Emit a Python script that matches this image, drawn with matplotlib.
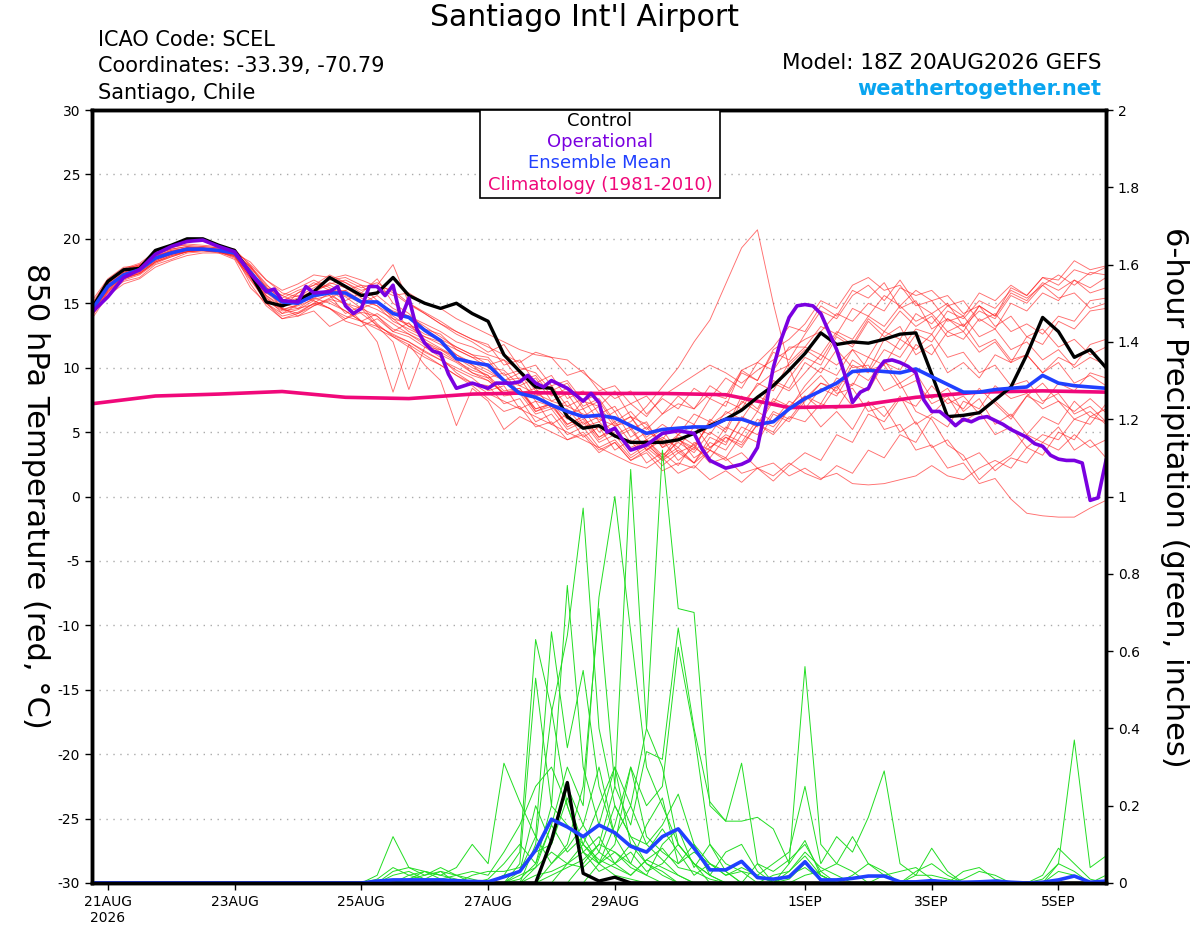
import matplotlib
matplotlib.use('Agg')
from matplotlib import pyplot as plt
from matplotlib.patches import Rectangle
from matplotlib.ticker import FuncFormatter
import pandas as pd
import numpy as np

plt.rcParams['font.family'] = ['DejaVu Sans']
plt.rcParams['axes.unicode_minus'] = False

# 6-hourly GEFS times, 18Z 20AUG2026 to 18Z 05SEP2026
times = pd.date_range('2026-08-20 18:00', periods=65, freq='6h')

tick_days = ['2026-08-21', '2026-08-23', '2026-08-25', '2026-08-27',
             '2026-08-29', '2026-09-01', '2026-09-03', '2026-09-05']
tick_labels = ['21AUG\n2026', '23AUG', '25AUG', '27AUG', '29AUG', '1SEP', '3SEP', '5SEP']

control_temp = [14.6, 16.7, 17.6, 17.7, 19.1, 19.5, 20.0, 20.0, 19.5, 19.1,
                17.3, 15.1, 14.8, 15.2, 15.9, 17.0, 16.3, 15.6, 15.8, 17.0,
                15.6, 15.0, 14.6, 15.0, 14.2, 13.6, 11.0, 9.7, 8.5, 8.4,
                6.2, 5.3, 5.5, 4.7, 4.2, 4.2, 4.2, 4.4, 4.9, 5.5,
                6.0, 6.7, 7.7, 8.6, 9.8, 11.1, 12.7, 11.8, 12.0, 11.9,
                12.2, 12.6, 12.7, 9.5, 6.2, 6.3, 6.5, 7.5, 8.5, 11.0,
                13.9, 12.8, 10.8, 11.4, 10.0]

mean_temp = [14.5, 16.3, 17.2, 17.6, 18.5, 18.9, 19.2, 19.2, 19.1, 18.9,
             17.4, 16.0, 15.1, 15.0, 15.6, 15.8, 15.8, 15.1, 15.1, 14.2,
             13.9, 12.9, 12.1, 10.7, 10.4, 10.2, 9.0, 8.0, 7.7, 7.1,
             6.6, 6.2, 6.3, 6.1, 5.5, 4.9, 5.2, 5.3, 5.4, 5.4,
             6.0, 6.0, 5.6, 5.8, 6.8, 7.6, 8.2, 8.8, 9.7, 9.8,
             9.7, 9.6, 9.9, 9.3, 8.7, 8.1, 8.1, 8.3, 8.4, 8.5,
             9.4, 8.8, 8.6, 8.5, 8.4]

# operational run, hours after 18Z 20AUG
op_hours = [0, 6, 12, 18, 24, 30, 36, 42, 48, 54, 60, 66, 69, 72, 78, 81, 84, 90, 93, 96,
            99, 102, 105, 108, 111, 114, 117, 120, 123, 126, 129, 132, 135, 138, 144, 150,
            153, 156, 159, 162, 165, 168, 171, 174, 180, 186, 189, 192, 195, 198, 201, 204,
            210, 216, 222, 228, 231, 234, 240, 246, 249, 252, 255, 258, 261, 264, 267, 270,
            273, 276, 282, 285, 288, 291, 294, 297, 300, 303, 306, 309, 312, 315, 318, 321,
            324, 327, 330, 333, 336, 339, 342, 345, 348, 351, 354, 357, 360, 363, 366, 369,
            372, 375, 378, 381, 384]
op_temp = [14.3, 15.5, 17.0, 17.6, 18.8, 19.4, 19.8, 19.9, 19.4, 19.0, 17.3, 15.9, 16.1, 15.2,
           15.1, 16.3, 15.8, 15.9, 16.3, 14.8, 14.2, 14.6, 16.3, 16.3, 15.6, 16.4, 13.8, 15.4,
           13.0, 11.9, 11.3, 11.1, 9.5, 8.4, 8.8, 8.4, 8.8, 8.8, 8.8, 8.9, 9.4, 8.8, 8.5, 9.0,
           8.4, 7.4, 8.0, 7.3, 5.0, 5.3, 4.4, 3.6, 4.0, 4.9, 5.1, 4.9, 3.7, 2.8, 2.2, 2.5,
           2.8, 3.8, 6.8, 10.0, 12.2, 13.9, 14.8, 14.9, 14.8, 14.2, 11.4, 9.5, 7.3, 8.1, 8.4,
           9.7, 10.5, 10.6, 10.4, 10.1, 9.6, 7.5, 6.6, 6.6, 6.1, 5.5, 6.0, 5.8, 6.1, 6.2, 5.9,
           5.6, 5.2, 4.9, 4.6, 4.1, 3.9, 3.2, 2.9, 2.8, 2.8, 2.6, -0.3, -0.1, 2.8]

# 1981-2010 climatology, daily
clim_hours = [0, 24, 48, 72, 96, 120, 144, 168, 192, 216, 240, 264, 288, 312, 336, 360, 384]
clim_temp = [7.2, 7.8, 7.95, 8.15, 7.7, 7.6, 7.95, 8.05, 8.0, 8.0, 7.9, 6.9, 7.0, 7.7, 8.1, 8.2, 8.1]

control_precip = [0, 0, 0, 0, 0, 0, 0, 0, 0, 0, 0, 0, 0, 0, 0, 0, 0, 0, 0, 0,
                  0, 0, 0, 0, 0, 0, 0, 0, 0, 0.11, 0.26, 0.025, 0.005, 0.015, 0, 0, 0, 0, 0, 0,
                  0, 0, 0, 0, 0, 0, 0, 0, 0, 0, 0, 0, 0, 0, 0, 0, 0, 0, 0, 0,
                  0, 0, 0, 0, 0]

mean_precip = [0, 0, 0, 0, 0, 0, 0, 0, 0, 0,
               0, 0, 0, 0, 0, 0, 0, 0, 0.005, 0.008,
               0.008, 0.008, 0.008, 0.006, 0.004, 0.003, 0.016, 0.03, 0.085, 0.165,
               0.145, 0.12, 0.15, 0.13, 0.095, 0.08, 0.12, 0.14, 0.09, 0.034,
               0.034, 0.056, 0.014, 0.01, 0.016, 0.055, 0.008, 0.008, 0.012, 0.018,
               0.018, 0.003, 0.003, 0.006, 0.003, 0.002, 0.003, 0.005, 0.002, 0.0,
               0.002, 0.008, 0.018, 0.002, 0.005]

# ensemble members, 850 hPa temperature
temp_members = [
    [14.2, 16.0, 17.0, 17.3, 18.2, 18.7, 19.0, 19.1, 19.0, 18.6, 17.0,
     15.6, 14.8, 15.2, 16.0, 16.5, 16.8, 16.2, 16.6, 15.8, 14.9, 14.2, 13.4, 12.6, 12.0,
     11.2, 11.8, 10.0, 9.6, 8.2, 8.8, 7.0, 7.6, 5.8, 6.6, 5.2, 6.4, 7.8, 6.8, 8.6, 7.8, 9.8, 9.0, 11.2, 10.6,
     12.6, 14.4, 13.8, 15.6, 16.4, 15.2, 16.8, 15.0, 14.2, 15.0, 13.2, 14.4, 13.8, 15.6, 15.0, 16.4, 17.2, 16.4, 17.4, 17.2],
    [14.8, 16.6, 17.5, 17.9, 18.8, 19.2, 19.4, 19.3, 19.2, 19.0, 17.8,
     16.2, 15.6, 15.0, 15.4, 15.9, 16.0, 15.2, 14.8, 13.6, 13.0, 12.4, 11.8, 11.0, 10.2,
     9.6, 9.0, 8.6, 8.0, 7.4, 7.0, 6.4, 6.0, 5.5, 5.8, 7.0, 8.5, 10.0, 12.0, 13.7, 16.5, 19.3, 20.7, 15.0, 10.0,
     7.0, 5.4, 6.6, 5.2, 7.4, 6.2, 7.8, 5.6, 6.4, 7.6, 6.8, 8.4, 7.2, 6.0, 7.8, 8.8, 7.4, 6.6, 7.6, 6.5],
    [14.0, 15.8, 16.7, 17.0, 18.0, 18.4, 18.9, 19.0, 19.0, 18.8, 17.6,
     15.0, 14.2, 14.5, 15.2, 14.6, 13.8, 14.3, 14.0, 12.8, 13.5, 12.0, 11.2, 10.5, 9.8,
     9.4, 7.8, 8.0, 6.4, 6.8, 5.2, 5.8, 4.2, 4.8, 3.2, 4.0, 3.0, 4.8, 5.6, 3.8, 4.6, 3.8, 5.6, 5.0, 6.8,
     7.8, 6.8, 8.6, 7.0, 7.2, 5.2, 5.6, 3.6, 4.0, 2.2, 2.6, 1.0, 1.4, -0.2, -1.3, -1.5, -1.6, -1.6, -0.9, -0.3],
    [15.0, 16.8, 17.7, 18.1, 19.0, 19.4, 19.5, 19.4, 19.3, 19.1, 18.0,
     16.8, 15.8, 15.5, 16.2, 16.9, 17.2, 16.8, 16.3, 16.0, 15.0, 14.3, 13.6, 12.8, 12.2,
     11.8, 10.2, 10.6, 8.8, 9.4, 7.6, 8.2, 6.4, 7.0, 5.2, 5.8, 3.8, 4.4, 3.6, 6.0, 5.2, 7.8, 6.8, 9.0, 8.4,
     10.4, 9.6, 11.4, 10.0, 10.2, 8.2, 8.8, 6.6, 6.0, 4.0, 3.2, 1.3, 2.4, 3.2, 4.8, 4.2, 5.4, 3.6, 4.4, 3.0],
    [14.4, 16.2, 16.9, 17.4, 18.3, 18.8, 19.1, 19.2, 19.0, 18.5, 16.8,
     15.2, 14.6, 15.8, 16.6, 16.0, 15.2, 15.8, 16.9, 15.0, 14.2, 13.0, 12.6, 11.4, 10.8,
     10.6, 9.0, 9.6, 7.8, 8.2, 6.4, 6.8, 5.0, 5.8, 4.2, 5.0, 4.4, 6.2, 5.6, 7.6, 7.0, 9.8, 10.4, 11.6, 13.2,
     12.8, 14.8, 14.0, 16.0, 15.4, 16.6, 14.6, 15.2, 13.0, 13.8, 12.8, 14.8, 14.0, 16.2, 15.6, 17.0, 16.8, 18.3, 17.6, 17.9],
    [13.8, 15.6, 16.5, 16.9, 17.8, 18.3, 18.7, 18.9, 18.9, 18.7, 17.9,
     16.5, 15.0, 14.6, 14.9, 15.3, 15.0, 14.2, 13.3, 12.5, 12.0, 11.3, 10.6, 9.8, 9.2,
     8.2, 8.6, 6.8, 7.4, 5.6, 6.4, 4.6, 5.4, 3.6, 4.4, 2.6, 3.4, 2.4, 4.2, 3.6, 5.4, 4.8, 6.6, 5.8, 7.4,
     6.8, 8.4, 7.8, 9.8, 9.0, 10.6, 8.8, 9.6, 7.6, 8.4, 6.6, 7.6, 5.6, 6.4, 4.8, 6.2, 5.6, 7.4, 6.2, 6.8],
    [14.6, 16.4, 17.4, 17.8, 18.6, 19.0, 19.3, 19.4, 19.3, 18.9, 17.2,
     15.5, 14.2, 14.9, 15.6, 16.1, 15.5, 14.6, 15.1, 14.3, 13.2, 13.0, 12.1, 11.0, 10.4,
     9.8, 9.0, 9.2, 7.4, 7.0, 6.8, 5.4, 5.8, 4.6, 5.2, 3.6, 4.6, 3.8, 5.4, 4.8, 6.6, 6.0, 7.8, 7.2, 9.2,
     10.8, 10.2, 12.4, 11.6, 13.6, 12.4, 13.2, 11.0, 11.8, 9.6, 10.4, 9.2, 11.0, 10.4, 12.4, 11.8, 13.6, 13.0, 14.4, 14.6],
    [14.3, 16.1, 17.1, 17.5, 18.4, 19.0, 19.3, 19.3, 19.1, 18.8, 16.5,
     14.8, 13.8, 14.0, 14.8, 15.4, 16.0, 16.4, 15.2, 13.8, 12.8, 12.2, 11.5, 10.8, 10.0,
     9.4, 8.2, 8.4, 6.8, 7.2, 6.0, 7.4, 7.0, 8.2, 6.2, 5.6, 4.0, 4.6, 3.0, 3.8, 4.8, 4.2, 6.0, 5.4, 6.8,
     7.8, 7.2, 9.2, 8.6, 10.8, 10.2, 12.2, 11.4, 12.6, 10.8, 11.2, 9.6, 10.2, 8.6, 9.0, 7.4, 8.0, 6.4, 7.0, 5.8],
    [14.7, 16.5, 17.6, 18.0, 18.7, 19.1, 19.2, 19.1, 19.0, 18.9, 18.2,
     16.8, 16.0, 16.5, 17.2, 17.0, 16.6, 16.0, 16.4, 18.0, 15.0, 14.2, 13.4, 12.8, 12.2,
     11.6, 11.0, 10.4, 11.2, 10.8, 9.4, 9.8, 8.2, 8.6, 7.2, 7.8, 6.4, 7.2, 6.8, 8.0, 7.6, 9.6, 9.0, 11.4, 12.2,
     13.4, 15.2, 14.6, 16.4, 17.0, 16.0, 16.4, 14.8, 15.2, 13.6, 14.0, 12.4, 13.0, 11.4, 12.0, 10.6, 11.4, 10.0, 10.8, 10.2],
    [14.1, 15.9, 16.8, 17.2, 18.1, 18.6, 19.0, 19.2, 19.2, 19.0, 17.5,
     15.6, 14.6, 14.2, 14.8, 15.2, 14.4, 13.6, 14.2, 13.4, 12.6, 12.0, 11.4, 10.8, 10.2,
     9.2, 9.6, 8.0, 8.4, 6.8, 7.4, 5.6, 6.2, 4.8, 5.4, 3.6, 4.4, 2.8, 3.8, 3.0, 4.6, 4.0, 5.6, 4.8, 6.2,
     5.8, 7.2, 6.8, 8.8, 8.2, 10.4, 9.8, 11.8, 11.0, 12.8, 12.2, 13.8, 13.0, 15.0, 14.4, 15.8, 15.2, 16.8, 16.2, 17.0],
    [15.2, 16.9, 17.8, 17.9, 18.9, 19.3, 19.6, 19.5, 19.4, 19.2, 17.9,
     16.2, 15.4, 16.0, 16.4, 17.2, 16.6, 15.8, 15.0, 14.4, 14.0, 13.2, 12.4, 11.6, 11.0,
     10.8, 9.4, 9.8, 8.2, 8.6, 7.0, 7.6, 5.8, 6.6, 4.6, 5.4, 3.8, 4.8, 4.0, 5.6, 6.4, 7.2, 8.6, 9.6, 10.2,
     11.4, 10.6, 12.6, 11.8, 13.8, 12.8, 14.4, 13.2, 14.0, 12.4, 12.8, 11.2, 12.0, 10.4, 11.0, 9.6, 10.8, 10.2, 11.8, 12.2],
    [14.5, 16.3, 17.3, 17.7, 18.5, 18.9, 19.1, 19.1, 18.9, 18.4, 16.2,
     15.0, 13.8, 14.2, 15.0, 15.8, 14.8, 13.6, 12.0, 8.1, 11.8, 11.0, 10.2, 9.4, 8.6,
     7.6, 6.6, 7.0, 5.4, 5.8, 4.4, 5.0, 3.6, 4.2, 2.8, 3.4, 2.0, 2.6, 2.2, 3.6, 3.0, 4.8, 4.2, 6.4, 5.8,
     7.4, 8.8, 8.2, 10.2, 9.6, 11.4, 10.8, 12.6, 12.0, 13.8, 13.2, 14.8, 14.0, 15.8, 15.2, 16.6, 16.0, 16.8, 15.8, 16.2],
    [14.5, 16.3, 17.0, 17.6, 18.5, 18.8, 19.3, 19.3, 19.2, 18.7, 17.3,
     16.3, 14.5, 14.8, 15.3, 15.6, 14.2, 14.8, 13.4, 12.4, 11.8, 10.2, 9.0, 5.5, 8.4,
     7.4, 5.2, 6.2, 5.6, 5.0, 4.4, 4.8, 3.4, 4.2, 2.8, 3.6, 2.4, 3.4, 2.6, 4.6, 4.0, 6.2, 5.6, 7.6, 7.0,
     8.2, 9.4, 8.0, 8.4, 6.6, 7.0, 5.0, 5.8, 3.8, 4.4, 2.8, 3.4, 2.0, 3.0, 2.6, 4.2, 3.6, 4.8, 3.8, 4.4],
    [14.2, 16.1, 17.1, 17.6, 18.4, 18.8, 19.1, 19.1, 19.0, 18.9, 17.7,
     15.8, 15.2, 15.8, 16.4, 16.8, 17.0, 16.4, 16.2, 15.6, 15.8, 15.0, 14.6, 13.8, 13.2,
     12.6, 12.0, 11.4, 11.0, 10.8, 10.6, 9.6, 8.6, 7.6, 8.2, 6.4, 7.6, 6.8, 8.4, 7.6, 9.2, 8.4, 10.4, 9.8, 11.6,
     11.6, 13.2, 12.6, 14.6, 14.0, 15.6, 14.8, 16.0, 15.2, 15.6, 14.2, 14.8, 13.2, 14.0, 12.4, 13.0, 11.6, 12.2, 11.0, 11.6],
    [14.9, 16.6, 17.5, 17.9, 18.7, 19.0, 19.2, 19.2, 19.0, 18.7, 17.1,
     15.4, 14.6, 14.0, 14.4, 13.2, 13.8, 14.6, 13.2, 12.0, 8.3, 11.6, 10.8, 9.6, 8.8,
     8.6, 7.2, 7.6, 5.8, 6.4, 4.8, 5.4, 3.8, 4.4, 3.0, 3.8, 2.8, 4.4, 3.8, 5.8, 5.0, 7.4, 6.6, 8.8, 8.2,
     9.6, 11.0, 10.2, 11.4, 9.8, 10.2, 8.4, 9.0, 7.2, 7.8, 5.8, 6.6, 4.8, 5.4, 3.8, 4.8, 4.4, 6.0, 5.6, 7.2],
    [14.3, 16.2, 17.1, 17.4, 18.3, 18.8, 19.0, 19.1, 19.1, 18.8, 17.4,
     16.0, 15.2, 15.6, 15.2, 14.6, 13.6, 13.2, 13.8, 12.8, 12.4, 11.6, 11.4, 10.6, 9.6,
     9.0, 8.0, 8.2, 6.8, 7.2, 5.6, 6.2, 4.6, 5.4, 3.6, 4.2, 2.8, 3.6, 2.6, 4.2, 3.6, 5.4, 4.8, 6.6, 6.0,
     7.6, 8.8, 8.4, 10.6, 9.8, 12.2, 11.4, 13.0, 12.6, 14.4, 13.8, 15.2, 14.6, 16.0, 15.4, 16.4, 15.4, 15.8, 14.6, 15.0],
    [14.6, 16.5, 17.4, 17.8, 18.6, 19.0, 19.2, 19.2, 19.1, 18.9, 17.6,
     15.8, 14.9, 15.3, 16.0, 16.4, 15.8, 15.0, 14.5, 13.8, 13.4, 12.6, 12.2, 11.6, 11.0,
     10.2, 10.6, 9.0, 9.4, 7.8, 8.4, 6.8, 7.4, 5.6, 6.2, 4.4, 5.2, 3.4, 4.0, 2.6, 3.0, 1.8, 2.2, 1.2, 2.4,
     3.4, 2.8, 4.8, 4.2, 6.4, 5.8, 7.6, 7.0, 8.6, 7.2, 7.8, 6.4, 7.4, 6.2, 7.8, 7.2, 8.8, 8.2, 9.6, 9.2],
    [14.4, 16.0, 16.9, 17.3, 18.2, 18.7, 19.0, 19.1, 19.0, 18.6, 17.0,
     15.2, 14.4, 14.6, 15.4, 15.0, 14.4, 13.6, 13.0, 12.4, 11.6, 10.8, 10.2, 9.4, 8.8,
     8.0, 7.4, 6.8, 6.2, 5.6, 5.0, 4.4, 3.8, 3.2, 2.6, 2.2, 3.0, 1.8, 2.4, 1.3, 2.0, 1.1, 2.2, 1.6, 2.6,
     1.8, 1.3, 2.4, 1.8, 3.6, 3.0, 4.8, 4.2, 6.2, 5.4, 7.4, 6.8, 8.6, 7.6, 8.0, 6.8, 7.4, 6.0, 6.6, 5.6],
    [14.7, 16.4, 17.3, 17.7, 18.6, 19.1, 19.3, 19.2, 19.0, 18.8, 17.3,
     15.9, 15.0, 15.4, 16.0, 15.6, 15.0, 14.6, 14.0, 13.0, 12.6, 11.8, 11.0, 10.4, 9.6,
     9.2, 8.0, 8.4, 6.6, 7.2, 5.4, 6.0, 4.4, 5.2, 3.6, 4.4, 3.0, 3.8, 2.6, 3.6, 2.8, 3.4, 2.2, 2.6, 1.6,
     2.2, 1.4, 1.8, 1.0, 0.9, 1.0, 1.3, 1.6, 2.4, 1.6, 1.3, 2.2, 2.8, 2.2, 3.8, 3.2, 5.0, 4.4, 6.2, 5.8],
    [14.0, 15.9, 16.9, 17.3, 18.2, 18.6, 19.0, 19.1, 19.1, 18.9, 17.8,
     16.4, 15.6, 16.2, 16.8, 16.2, 15.6, 15.0, 15.6, 14.6, 14.0, 13.4, 12.8, 12.0, 11.6,
     11.0, 10.6, 9.8, 10.2, 8.6, 9.0, 7.4, 8.0, 6.6, 7.2, 6.2, 7.8, 8.6, 9.4, 10.2, 9.6, 8.8, 9.8, 10.6, 11.4,
     12.2, 12.8, 14.2, 13.6, 15.0, 14.4, 16.2, 15.6, 16.0, 14.8, 15.2, 13.6, 14.2, 12.8, 13.4, 12.6, 14.0, 13.6, 15.2, 15.4],
    [14.5, 16.3, 17.3, 17.8, 18.6, 19.0, 19.2, 19.2, 19.0, 18.8, 17.5,
     15.3, 14.5, 14.9, 15.8, 16.6, 16.2, 15.4, 14.8, 14.0, 13.2, 12.4, 12.0, 11.4, 10.8,
     10.0, 9.8, 8.6, 9.2, 7.4, 8.0, 6.2, 7.0, 5.4, 6.2, 4.6, 5.6, 4.8, 6.4, 5.8, 7.4, 6.8, 8.8, 8.2, 10.4,
     11.6, 11.0, 12.8, 12.2, 14.0, 13.2, 14.8, 13.6, 14.2, 12.8, 13.4, 11.6, 12.2, 10.6, 11.0, 9.6, 10.4, 8.8, 9.4, 8.6],
    [14.8, 16.7, 17.6, 18.0, 18.8, 19.2, 19.4, 19.3, 19.1, 18.7, 16.9,
     15.0, 14.0, 14.3, 15.0, 14.6, 14.0, 13.6, 13.2, 12.6, 12.0, 11.2, 10.6, 10.0, 9.4,
     9.0, 8.0, 8.2, 6.6, 7.0, 5.6, 6.2, 4.6, 5.2, 3.8, 4.4, 3.2, 4.2, 3.4, 5.0, 4.2, 6.0, 5.4, 7.4, 6.8,
     8.6, 10.0, 9.4, 11.4, 10.8, 12.8, 12.2, 14.2, 13.4, 14.8, 14.0, 15.8, 15.2, 16.4, 15.6, 17.0, 16.4, 17.6, 17.2, 17.8],
]

# ensemble members, 6-hour precip: (index of first value, values); zero elsewhere
precip_members = [
    (17, [0.0, 0.02, 0.12, 0.04, 0.02, 0.03, 0.02, 0.01, 0.0, 0.02, 0.08, 0.63, 0.45, 0.2, 0.08, 0.05, 0.02, 0.01, 0.0]),
    (18, [0.0, 0.03, 0.04, 0.03, 0.02, 0.04, 0.1, 0.05, 0.31, 0.21, 0.12, 0.65, 0.35, 0.55, 0.25, 0.12, 0.05, 0.02, 0.0]),
    (26, [0.0, 0.05, 0.53, 0.2, 0.77, 0.3, 0.15, 0.3, 0.1, 0.05, 0.02, 0.0]),
    (27, [0.0, 0.1, 0.44, 0.64, 0.97, 0.4, 0.2, 0.12, 0.05, 0.03, 0.0]),
    (27, [0.0, 0.04, 0.15, 0.3, 0.2, 0.74, 1.0, 0.65, 0.3, 0.2, 0.1, 0.05, 0.02, 0.0]),
    (28, [0.0, 0.05, 0.1, 0.25, 0.71, 0.25, 1.07, 0.4, 0.3, 0.1, 0.05, 0.0]),
    (29, [0.0, 0.05, 0.1, 0.2, 0.3, 0.2, 0.4, 1.12, 0.71, 0.70, 0.2, 0.16, 0.31, 0.05, 0.0]),
    (30, [0.0, 0.05, 0.1, 0.25, 0.15, 0.34, 0.32, 0.66, 0.4, 0.21, 0.16, 0.16, 0.17, 0.14, 0.05, 0.11, 0.02, 0.0]),
    (31, [0.0, 0.05, 0.1, 0.3, 0.2, 0.25, 0.61, 0.39, 0.1, 0.05, 0.03, 0.02, 0.0, 0.05, 0.56, 0.1, 0.05, 0.03, 0.0]),
    (26, [0.0, 0.03, 0.2, 0.1, 0.25, 0.15, 0.3, 0.12, 0.2, 0.1, 0.15, 0.23, 0.1, 0.05, 0.02, 0.04, 0.02, 0.05,
          0.08, 0.25, 0.05, 0.12, 0.08, 0.17, 0.29, 0.05, 0.02, 0.09, 0.03, 0.0]),
    (17, [0.0, 0.01, 0.04, 0.02, 0.03, 0.01, 0.02, 0.03, 0.02, 0.08, 0.15, 0.25, 0.3, 0.2, 0.08, 0.12, 0.05, 0.08,
          0.03, 0.05, 0.1, 0.05, 0.02, 0.0, 0.0, 0.0, 0.0, 0.03, 0.08, 0.04, 0.02, 0.0, 0.0, 0.0, 0.0, 0.0,
          0.0, 0.0, 0.0, 0.0, 0.0, 0.0, 0.0, 0.0, 0.05, 0.37, 0.04, 0.07]),
    (19, [0.0, 0.01, 0.02, 0.04, 0.02, 0.0, 0.01, 0.05, 0.1, 0.05, 0.2, 0.15, 0.1, 0.05, 0.15, 0.3, 0.12, 0.08,
          0.05, 0.1, 0.02, 0.08, 0.1, 0.03, 0.0, 0.0, 0.0, 0.0, 0.0, 0.02, 0.05, 0.03, 0.0, 0.03, 0.05, 0.02,
          0.0, 0.0, 0.0, 0.0, 0.0, 0.02, 0.09, 0.05, 0.01, 0.0]),
    (18, [0.0, 0.02, 0.03, 0.01, 0.03, 0.0, 0.0, 0.0, 0.02, 0.03, 0.12, 0.05, 0.09, 0.15, 0.08, 0.2, 0.12, 0.1,
          0.06, 0.02, 0.0, 0.0, 0.0, 0.0, 0.0, 0.0, 0.02, 0.04, 0.01, 0.0, 0.0, 0.0, 0.0, 0.0, 0.0, 0.0, 0.0,
          0.03, 0.04, 0.01, 0.0]),
    (26, [0.0, 0.01, 0.05, 0.15, 0.08, 0.12, 0.05, 0.08, 0.05, 0.15, 0.22, 0.05, 0.08, 0.05, 0.02, 0.03, 0.0,
          0.0, 0.0, 0.02, 0.03, 0.05, 0.12, 0.05, 0.02, 0.0]),
    (27, [0.0, 0.02, 0.03, 0.05, 0.08, 0.03, 0.05, 0.1, 0.08, 0.14, 0.08, 0.02, 0.05, 0.03, 0.0, 0.05, 0.03,
          0.06, 0.1, 0.03, 0.0, 0.0, 0.0, 0.0, 0.0, 0.0, 0.0, 0.0, 0.01, 0.03, 0.02, 0.0, 0.0, 0.0, 0.03, 0.02, 0.0]),
    (19, [0.0, 0.02, 0.01, 0.0, 0.0, 0.02, 0.03, 0.03, 0.04, 0.08, 0.1, 0.22, 0.1, 0.06, 0.04, 0.02, 0.06, 0.04,
          0.02, 0.0, 0.0, 0.0, 0.0, 0.0, 0.02, 0.03, 0.07, 0.02, 0.0]),
    (28, [0.0, 0.02, 0.04, 0.06, 0.1, 0.08, 0.04, 0.02, 0.1, 0.14, 0.04, 0.1, 0.03, 0.0, 0.0, 0.0, 0.0, 0.0,
          0.0, 0.0, 0.0, 0.0, 0.02, 0.03, 0.04, 0.01, 0.0, 0.0, 0.0, 0.0, 0.0, 0.0, 0.01, 0.05, 0.03, 0.0, 0.02]),
    (19, [0.0, 0.01, 0.03, 0.02, 0.01, 0.0, 0.0, 0.0, 0.02, 0.04, 0.08, 0.05, 0.04, 0.08, 0.05, 0.02, 0.06,
          0.09, 0.04, 0.03, 0.01, 0.0, 0.0, 0.0, 0.0, 0.01, 0.05, 0.02, 0.0, 0.0, 0.0, 0.0, 0.0, 0.02, 0.02, 0.01, 0.0]),
]


def pad(start, vals):
    full = np.zeros(len(times))
    full[start:start + len(vals)] = vals
    return full


start = times[0]
op_times = start + pd.to_timedelta(op_hours, unit='h')
clim_times = start + pd.to_timedelta(clim_hours, unit='h')

fig = plt.figure(figsize=(12, 9.27), dpi=100)
ax = fig.add_axes([92 / 1200, 44 / 927, 1014 / 1200, 773 / 927])
ax2 = ax.twinx()

# temperature members and main lines
for m in temp_members:
    ax.plot(times, m, color='#ff2020', lw=0.65, alpha=0.65)
ax.plot(clim_times, clim_temp, color='#f0087a', lw=2.6)
ax.plot(times, control_temp, color='black', lw=2.4)
ax.plot(times, mean_temp, color='#2040ff', lw=2.6)
ax.plot(op_times, op_temp, color='#7a00e0', lw=2.6)

# precipitation on right axis
for st, vals in precip_members:
    ax2.plot(times, pad(st, vals), color='#22dd22', lw=0.7)
ax2.plot(times, control_precip, color='black', lw=2.4)
ax2.plot(times, mean_precip, color='#2040ff', lw=2.6)

ax.set_xlim(times[0], times[-1])
ax.set_ylim(-30, 30)
ax2.set_ylim(0, 2)
ax.set_yticks(range(-30, 31, 5))
ax2.set_yticks(np.arange(0, 2.01, 0.2))
ax2.yaxis.set_major_formatter(FuncFormatter(lambda v, p: '%g' % round(v, 1)))
ax.set_xticks(pd.to_datetime(tick_days))
ax.set_xticklabels(tick_labels)

ax.grid(axis='y', color='#aaaaaa', linestyle=(0, (1, 4)), lw=1)
ax.tick_params(axis='both', labelsize=10, length=5, width=1)
ax2.tick_params(axis='y', labelsize=10, length=5, width=1)
for a in (ax, ax2):
    for s in a.spines.values():
        s.set_linewidth(2.5)

# titles and info
fig.text(585 / 1200, 1 - 18 / 927, "Santiago Int'l Airport", fontsize=21.5, ha='center', va='center')
fig.text(98 / 1200, 1 - 40 / 927, 'ICAO Code: SCEL', fontsize=15, ha='left', va='center')
fig.text(98 / 1200, 1 - 66 / 927, 'Coordinates: -33.39, -70.79', fontsize=15, ha='left', va='center')
fig.text(98 / 1200, 1 - 93 / 927, 'Santiago, Chile', fontsize=15, ha='left', va='center')
fig.text(1101 / 1200, 1 - 63 / 927, 'Model: 18Z 20AUG2026 GEFS', fontsize=15.5, ha='right', va='center')
fig.text(1101 / 1200, 1 - 89 / 927, 'weathertogether.net', fontsize=15, fontweight='bold',
         color='#0aa5f0', ha='right', va='center')

fig.text(35 / 1200, 1 - 496 / 927, '850 hPa Temperature (red, °C)', fontsize=22,
         rotation=270, ha='center', va='center')
fig.text(1175 / 1200, 1 - 497 / 927, '6-hour Precipitation (green, inches)', fontsize=22,
         rotation=270, ha='center', va='center')

# legend box
box = Rectangle((480 / 1200, 1 - 198 / 927), 240 / 1200, 88 / 927, transform=fig.transFigure,
                facecolor='white', edgecolor='black', lw=1.2, zorder=10)
fig.patches.append(box)
legend_items = [('Control', 'black', 121), ('Operational', '#7a00e0', 142),
                ('Ensemble Mean', '#2040ff', 163), ('Climatology (1981-2010)', '#f0087a', 185)]
for label, col, ypx in legend_items:
    fig.text(600 / 1200, 1 - ypx / 927, label, fontsize=13, color=col, ha='center', va='center', zorder=11)

fig.savefig('out.png', dpi=100)
